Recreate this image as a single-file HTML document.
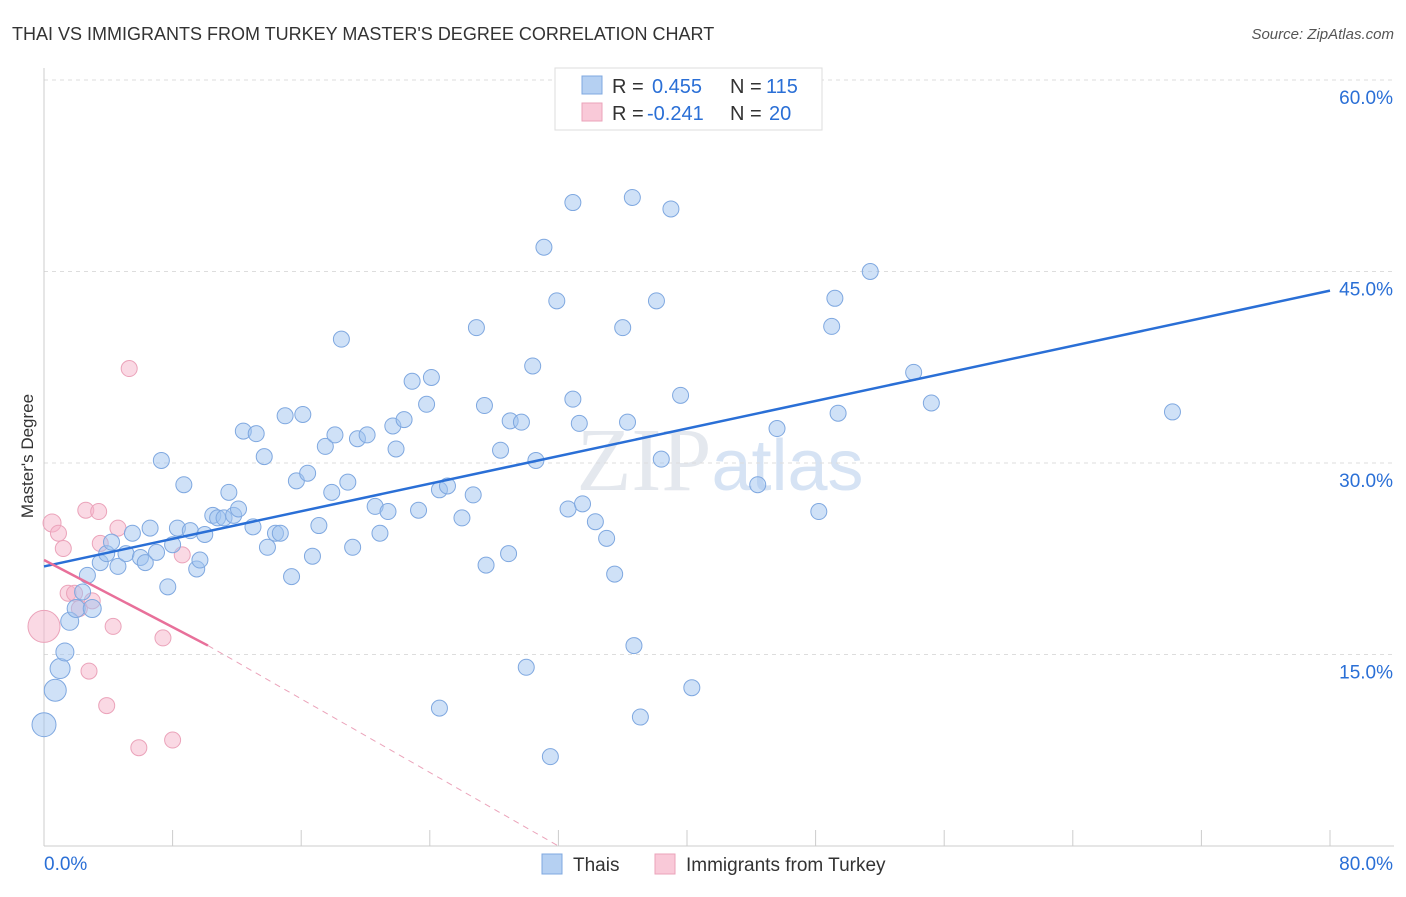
<!DOCTYPE html>
<html><head><meta charset="utf-8"><style>
body{margin:0;background:#fff;font-family:"Liberation Sans",sans-serif}
</style></head><body>
<svg id="chart" width="1406" height="892" xmlns="http://www.w3.org/2000/svg">
<text x="12" y="40" font-size="18" fill="#333">THAI VS IMMIGRANTS FROM TURKEY MASTER'S DEGREE CORRELATION CHART</text>
<text x="1394" y="39" font-size="15" fill="#555" font-style="italic" text-anchor="end">Source: ZipAtlas.com</text>
<text x="720" y="490" font-size="90" fill="#e4e8ee" text-anchor="middle" font-family="Liberation Serif">ZIP<tspan fill="#d6e3f4" font-family="Liberation Sans" font-size="72">atlas</tspan></text>
<g id="grid"></g>
<g id="axes"></g>
<g id="marks"></g>
<text transform="translate(33,456) rotate(-90)" font-size="17" fill="#333" text-anchor="middle">Master's Degree</text>
<g font-size="20">
<rect x="555" y="68" width="267" height="62" fill="#fff" stroke="#ddd"/>
<rect x="582" y="76" width="20" height="18" fill="#b5d0f2" stroke="#7fa8e0"/>
<rect x="582" y="103" width="20" height="18" fill="#f9c9d8" stroke="#eba3ba"/>
<text x="612" y="93" fill="#333">R =</text><text x="652" y="93" fill="#2a6fd6">0.455</text>
<text x="730" y="93" fill="#333">N =</text><text x="766" y="93" fill="#2a6fd6">115</text>
<text x="612" y="120" fill="#333">R =</text><text x="647" y="120" fill="#2a6fd6">-0.241</text>
<text x="730" y="120" fill="#333">N =</text><text x="769" y="120" fill="#2a6fd6">20</text>
</g>
<g>
<rect x="542" y="854" width="20" height="20" fill="#b5d0f2" stroke="#7fa8e0"/>
<text x="573" y="871" font-size="19" fill="#333">Thais</text>
<rect x="655" y="854" width="20" height="20" fill="#f9c9d8" stroke="#eba3ba"/>
<text x="686" y="871" font-size="19" fill="#333">Immigrants from Turkey</text>
</g>
</svg>
<script>
const xTicks=[0,80];
const yTicks=[15,30,45,60];
const thaiX=[0,0.7,1,1.3,1.6,2,3,2.4,2.7,3.5,3.9,4.2,4.6,5.1,5.5,6,6.3,6.6,7,7.3,7.7,8,8.3,8.7,9.1,9.5,9.7,10,10.5,10.8,11.2,11.5,11.8,12.1,12.4,13,13.2,13.7,13.9,14.4,14.7,15,15.4,15.7,16.1,16.4,16.7,17.1,17.5,17.9,18.1,18.5,18.9,19.2,19.5,20.1,20.6,20.9,21.4,21.7,21.9,22.4,22.9,23.3,23.8,24.1,24.6,24.6,25.1,26,26.7,26.9,27.4,27.5,28.4,28.9,29,29.7,30,30.4,30.6,31.1,31.5,31.9,32.6,32.9,33.3,32.9,33.5,34.3,35,35.5,36,36.3,36.7,36.6,37.1,38.1,38.4,39,39.6,40.3,44.4,45.6,48.2,49,49.2,49.4,51.4,54.1,55.2,70.2];
const thaiY=[9.5,12.2,13.9,15.2,17.6,18.6,18.6,19.9,21.2,22.2,22.9,23.8,21.9,22.9,24.5,22.6,22.2,24.9,23,30.2,20.3,23.6,24.9,28.3,24.7,21.7,22.4,24.4,25.9,25.7,25.7,27.7,25.9,26.4,32.5,25,32.3,30.5,23.4,24.5,24.5,33.7,21.1,28.6,33.8,29.2,22.7,25.1,31.3,27.7,32.2,39.7,28.5,23.4,31.9,32.2,26.6,24.5,26.2,32.9,31.1,33.4,36.4,26.3,34.6,36.7,10.8,27.9,28.2,25.7,27.5,40.6,34.5,22,31,22.9,33.3,33.2,14,37.6,30.2,46.9,7,42.7,26.4,35,33.1,50.4,26.8,25.4,24.1,21.3,40.6,33.2,15.7,50.8,10.1,42.7,30.3,49.9,35.3,12.4,28.3,32.7,26.2,40.7,42.9,33.9,45,37.1,34.7,34,22.6];
const thaiR=[12,11,10,9,9,9,9,8,8,8,8,8,8,8,8,8,8,8,8,8,8,8,8,8,8,8,8,8,8,8,8,8,8,8,8,8,8,8,8,8,8,8,8,8,8,8,8,8,8,8,8,8,8,8,8,8,8,8,8,8,8,8,8,8,8,8,8,8,8,8,8,8,8,8,8,8,8,8,8,8,8,8,8,8,8,8,8,8,8,8,8,8,8,8,8,8,8,8,8,8,8,8,8,8,8,8,8,8,8,8,8,8,8,8,8];
const turkX=[0,0.5,0.9,1.2,1.5,1.9,2.2,2.6,3,3.4,3.5,4.3,4.6,5.3,5.9,7.4,8,8.6,3.9,2.8];
const turkY=[17.2,25.3,24.5,23.3,19.8,19.8,18.6,26.3,19.2,26.2,23.7,17.2,24.9,37.4,7.7,16.3,8.3,22.8,11,13.7];
const turkR=[16,9,8,8,8,8,8,8,8,8,8,8,8,8,8,8,8,8,8,8];
const thaiTrend=[0,21.9,80,43.5];
const turkTrend=[0,22.4,10.2,15.7,32,0];
const X=v=>44+v/80*1286, Y=v=>846-v/15*191.5;
const NS="http://www.w3.org/2000/svg";
function mk(t,a,p){const e=document.createElementNS(NS,t);for(const k in a)e.setAttribute(k,a[k]);p.appendChild(e);return e;}
const g=document.getElementById('grid'),ax=document.getElementById('axes'),m=document.getElementById('marks');
yTicks.forEach(v=>{const l=mk('line',{x1:44,x2:1394,y1:Y(v),y2:Y(v),stroke:'#ddd','stroke-dasharray':'4,4'},g);


const t=mk('text',{x:1393,y:Y(v)+24,'font-size':19,fill:'#2a6fd6','text-anchor':'end'},ax);t.textContent=v.toFixed(1)+'%';

});
mk('line',{x1:44,x2:1394,y1:846,y2:846,stroke:'#ccc'},ax);
mk('line',{x1:44,x2:44,y1:68,y2:846,stroke:'#ccc'},ax);
for(let i=0;i<=10;i++){mk('line',{x1:X(i*8),x2:X(i*8),y1:830,y2:846,stroke:'#ccc'},ax);}
xTicks.forEach((v,i)=>{const t=mk('text',{x:i?1393:44,y:870,'font-size':19,fill:'#2a6fd6','text-anchor':i?'end':'start'},ax);t.textContent=v.toFixed(1)+'%';

});
turkX.forEach((x,i)=>{const c=mk('circle',{cx:X(x),cy:Y(turkY[i]),r:turkR[i],fill:'rgba(246,180,202,0.5)',stroke:'#eba3ba'},m);

});
thaiX.forEach((x,i)=>{const c=mk('circle',{cx:X(x),cy:Y(thaiY[i]),r:thaiR[i],fill:'rgba(160,196,240,0.5)',stroke:'#7fa8e0'},m);

});
let l=mk('line',{x1:X(thaiTrend[0]),y1:Y(thaiTrend[1]),x2:X(thaiTrend[2]),y2:Y(thaiTrend[3]),stroke:'#2a6fd6','stroke-width':2.5},m);


l=mk('line',{x1:X(turkTrend[0]),y1:Y(turkTrend[1]),x2:X(turkTrend[2]),y2:Y(turkTrend[3]),stroke:'#e8709a','stroke-width':2.5},m);


l=mk('line',{x1:X(turkTrend[2]),y1:Y(turkTrend[3]),x2:X(turkTrend[4]),y2:Y(turkTrend[5]),stroke:'#eba3ba','stroke-width':1,'stroke-dasharray':'6,5'},m);


</script>
</body></html>
